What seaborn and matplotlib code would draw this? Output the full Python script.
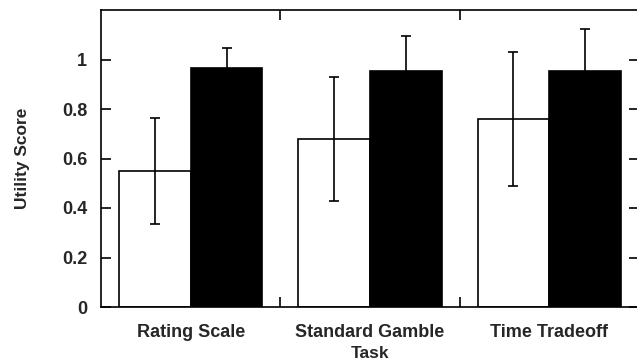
import numpy as np
import pandas as pd
import matplotlib
matplotlib.use("Agg")
import matplotlib.pyplot as plt
import seaborn as sns

# Data
tasks = ["Rating Scale", "Standard Gamble", "Time Tradeoff"]
groups = ["Group 1", "Group 2"]
means_g1 = [0.55, 0.68, 0.76]
means_g2 = [0.965, 0.955, 0.955]
err_g1 = [0.215, 0.25, 0.27]
err_g2 = [0.082, 0.138, 0.167]

df = pd.DataFrame({
    "Task": tasks * 2,
    "Group": [groups[0]] * 3 + [groups[1]] * 3,
    "Score": means_g1 + means_g2,
    "Err": err_g1 + err_g2,
})

sns.set_style("white")
plt.rcParams['font.family'] = ['Liberation Sans', 'DejaVu Sans']
plt.rcParams['font.weight'] = 'bold'

fig = plt.figure(figsize=(6.37, 3.63), dpi=100)
ax = fig.add_axes([101 / 637, 56 / 363, 538 / 637, 297 / 363])

sns.barplot(data=df, x="Task", y="Score", hue="Group", order=tasks,
            hue_order=groups, palette=["white", "black"], edgecolor="black",
            linewidth=1.2, width=0.8, errorbar=None, legend=False, ax=ax)

# error bars on top of each bar
for container, g in zip(ax.containers, groups):
    sub = df[df["Group"] == g].set_index("Task").loc[tasks]
    xs = [p.get_x() + p.get_width() / 2 for p in container]
    ax.errorbar(xs, sub["Score"], yerr=sub["Err"], fmt="none",
                ecolor="black", elinewidth=1.2, capsize=3.5, capthick=1.2)

ax.set_xlim(-0.5, 2.5)
ax.set_ylim(0, 1.2)
ax.set_yticks([0, 0.2, 0.4, 0.6, 0.8, 1.0])
ax.set_yticklabels(["0", "0.2", "0.4", "0.6", "0.8", "1"])
ax.set_xticks(range(len(tasks)))
ax.set_xticklabels(tasks)
ax.set_xticks([0.5, 1.5], minor=True)

ax.tick_params(axis="x", which="major", length=0, pad=12, labelsize=13)
ax.tick_params(axis="x", which="minor", direction="in", length=7,
               width=1.2, top=True, bottom=True, color="black")
ax.tick_params(axis="y", which="major", direction="in", length=7, width=1.2,
               left=True, right=True, pad=10, labelsize=13, color="black")

for s in ax.spines.values():
    s.set_color("black")
    s.set_linewidth(1.2)

ax.set_xlabel("Task", fontsize=12.5, fontweight="bold", labelpad=4)
ax.set_ylabel("Utility Score", fontsize=12.5, fontweight="bold", labelpad=23)

fig.savefig("out.png", dpi=100)
